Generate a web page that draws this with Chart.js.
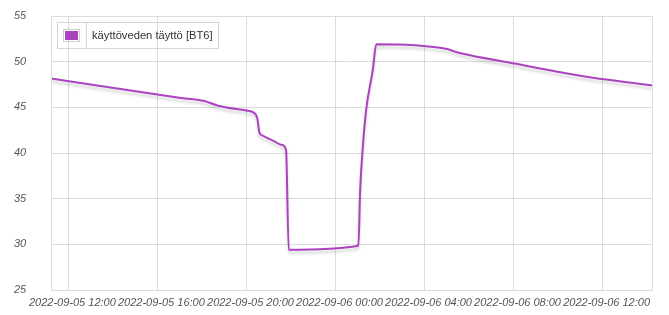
<!DOCTYPE html>
<html>
<head>
<meta charset="utf-8">
<script src="https://cdn.jsdelivr.net/npm/chart.js@4/dist/chart.umd.min.js"></script>
<style>
    html, body { margin: 0; padding: 0; background: #fff; overflow: hidden; }
    canvas { display: block; }
</style>
</head>
<body>
<canvas id="chart" width="669" height="315"></canvas>
<script>
    "use strict";

    // hours counted from 2022-09-05 00:00
    var hours = [11.22, 16.98, 18.11, 18.69, 19.98, 20.40, 20.50, 20.58, 20.73, 21.26, 21.56, 21.78,
                 21.90, 25.03, 25.11, 25.23, 25.38, 25.68, 25.83, 28.90, 29.58, 32.04, 35.28, 35.97, 38.22];
    var fill = [48.15, 46.06, 45.7, 45.2, 44.65, 44.3, 43.66, 42.26, 41.9, 41.27, 40.9, 40.36,
                29.4, 29.85, 35.97, 40.7, 44.76, 49.15, 51.9, 51.43, 50.95, 49.8, 48.35, 48.1, 47.4];
    var xTicks = [12, 16, 20, 24, 28, 32, 36];
    var xTickLabels = ["2022-09-05 12:00", "2022-09-05 16:00", "2022-09-05 20:00", "2022-09-06 00:00",
                       "2022-09-06 04:00", "2022-09-06 08:00", "2022-09-06 12:00"];
    var yTicks = [25, 30, 35, 40, 45, 50, 55];
    var seriesName = "käyttöveden täyttö [BT6]";
    var lineColor = "#ab43bf";

    var points = hours.map(function (h, i) { return {x: h, y: fill[i]}; });

    // Line shadow
    var shadowPlugin = {
        id: 'lineShadow',
        beforeDatasetDraw: function (chart) {
            var ctx = chart.ctx;
            ctx.save();
            ctx.shadowColor = 'rgba(0,0,0,0.18)';
            ctx.shadowBlur = 3;
            ctx.shadowOffsetY = 3;
        },
        afterDatasetDraw: function (chart) {
            chart.ctx.restore();
        }
    };

    // Frame + legend table inside the plot
    var framePlugin = {
        id: 'frameLegend',
        afterDraw: function (chart) {
            var ctx = chart.ctx;
            var a = chart.chartArea;
            ctx.save();
            ctx.strokeStyle = '#dcdcdc';
            ctx.lineWidth = 1;
            ctx.strokeRect(Math.round(a.left) + 0.5, Math.round(a.top) + 0.5,
                           Math.round(a.right - a.left), Math.round(a.bottom - a.top));

            var lx = a.left + 6, ly = a.top + 6, lw = 161, lh = 26;
            ctx.strokeStyle = '#d6d6d6';
            ctx.strokeRect(lx + 0.5, ly + 0.5, lw, lh);
            ctx.beginPath();
            ctx.moveTo(lx + 29.5, ly);
            ctx.lineTo(lx + 29.5, ly + lh);
            ctx.stroke();
            ctx.strokeStyle = '#cccccc';
            ctx.strokeRect(lx + 6.5, ly + 7.5, 16, 12);
            ctx.fillStyle = lineColor;
            ctx.fillRect(lx + 8, ly + 9, 13, 9);
            ctx.fillStyle = '#333';
            ctx.font = '11.2px "Liberation Sans", Arial, sans-serif';
            ctx.textBaseline = 'middle';
            ctx.textAlign = 'left';
            ctx.fillText(seriesName, lx + 35, ly + lh / 2 + 1);
            ctx.restore();
        }
    };

    var tickFont = {family: '"Liberation Sans", Arial, sans-serif', size: 11, style: 'italic'};

    new Chart(document.getElementById('chart'), {
        type: 'line',
        data: {
            datasets: [{
                label: seriesName,
                data: points,
                borderColor: lineColor,
                backgroundColor: lineColor,
                borderWidth: 2,
                pointRadius: 0,
                cubicInterpolationMode: 'monotone',
                fill: false
            }]
        },
        options: {
            responsive: false,
            animation: false,
            layout: {padding: {left: 14, right: 17, top: 16, bottom: 5}},
            plugins: {
                legend: {display: false},
                tooltip: {enabled: false}
            },
            scales: {
                x: {
                    type: 'linear',
                    min: 11.22,
                    max: 38.22,
                    afterBuildTicks: function (scale) {
                        scale.ticks = xTicks.map(function (v) { return {value: v}; });
                    },
                    afterFit: function (scale) {
                        scale.height = 20;
                    },
                    grid: {color: '#dcdcdc', drawTicks: false},
                    border: {display: false},
                    ticks: {
                        font: tickFont,
                        color: '#555',
                        padding: 6,
                        maxRotation: 0,
                        autoSkip: false,
                        labelOffset: 4,
                        callback: function (v) {
                            var i = xTicks.indexOf(v);
                            return i >= 0 ? xTickLabels[i] : '';
                        }
                    }
                },
                y: {
                    min: 25,
                    max: 55,
                    afterBuildTicks: function (scale) {
                        scale.ticks = yTicks.map(function (v) { return {value: v}; });
                    },
                    afterFit: function (scale) {
                        scale.width = 37;
                    },
                    grid: {color: '#dcdcdc', drawTicks: false},
                    border: {display: false},
                    ticks: {
                        font: tickFont,
                        color: '#555',
                        padding: 0,
                        crossAlign: 'far'
                    }
                }
            }
        },
        plugins: [shadowPlugin, framePlugin]
    });
</script>
</body>
</html>
